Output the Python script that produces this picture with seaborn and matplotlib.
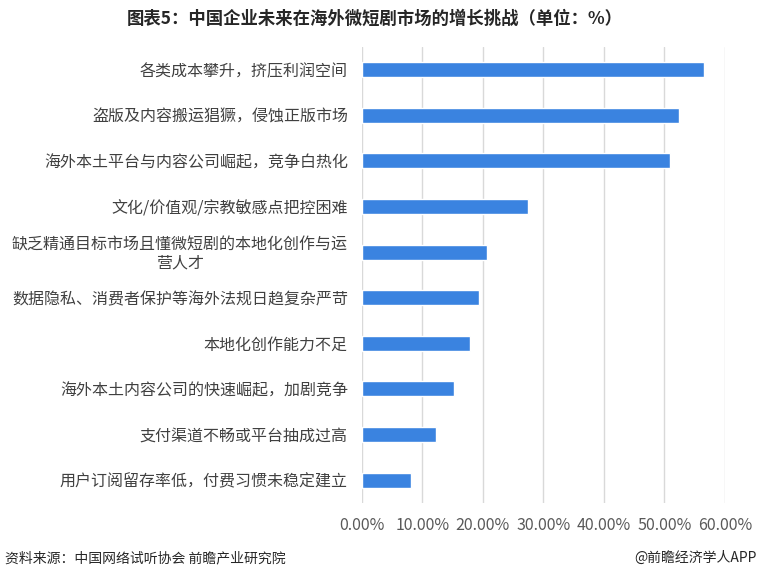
import matplotlib.pyplot as plt
import seaborn as sns
import numpy as np
import pandas as pd
from matplotlib.ticker import PercentFormatter

challenges = ['各类成本攀升，挤压利润空间',
              '盗版及内容搬运猖獗，侵蚀正版市场',
              '海外本土平台与内容公司崛起，竞争白热化',
              '文化/价值观/宗教敏感点把控困难',
              '缺乏精通目标市场且懂微短剧的本地化创作与运\n营人才',
              '数据隐私、消费者保护等海外法规日趋复杂严苛',
              '本地化创作能力不足',
              '海外本土内容公司的快速崛起，加剧竞争',
              '支付渠道不畅或平台抽成过高',
              '用户订阅留存率低，付费习惯未稳定建立']
share = [0.566, 0.524, 0.509, 0.275, 0.207, 0.193, 0.179, 0.152, 0.123, 0.082]

df = pd.DataFrame({'challenge': challenges, 'share': share})

sns.set_style('white')
plt.rcParams['font.family'] = ['Noto Sans CJK SC', 'DejaVu Sans']

fig = plt.figure(figsize=(7.6, 5.8), dpi=100)
ax = fig.add_axes([0.476, 0.133, 0.478, 0.786])

sns.barplot(data=df, x='share', y='challenge', color='#3A83E0', width=0.33,
            saturation=1, ax=ax)

ax.set_xlim(0, 0.6)
ax.set_xticks(np.arange(0, 0.61, 0.1))
ax.xaxis.set_major_formatter(PercentFormatter(1.0, decimals=2))
ax.grid(axis='x', color='#D9D9D9', linewidth=1)
ax.set_axisbelow(True)
for s in ax.spines.values():
    s.set_visible(False)
ax.set_xlabel('')
ax.set_ylabel('')
ax.tick_params(axis='x', colors='#595959', labelsize=11.5, length=0, pad=10)
ax.tick_params(axis='y', colors='#404040', labelsize=11.5, length=0, pad=10)

# 两行的标签单独画，第二行在第一行下方居中
wrapped = [i for i, c in enumerate(challenges) if '\n' in c]
ax.set_yticks(range(len(challenges)),
              labels=['' if '\n' in c else c for c in challenges])
for i in wrapped:
    first, second = challenges[i].split('\n')
    t1 = ax.annotate(first, xy=(0, i), xycoords=('axes fraction', 'data'),
                     xytext=(-10, 6), textcoords='offset points',
                     ha='right', va='center', fontsize=11.5, color='#404040')
    ax.annotate(second, xy=(0.5, 0.5), xycoords=t1,
                xytext=(0, -13.5), textcoords='offset points',
                ha='center', va='center', fontsize=11.5, color='#404040')

fig.text(0.493, 0.968, '图表5：中国企业未来在海外微短剧市场的增长挑战（单位：%）',
         ha='center', va='center', fontsize=12.5, fontweight='bold', color='#262626')
fig.text(0.007, 0.038, '资料来源：中国网络试听协会 前瞻产业研究院',
         ha='left', va='center', fontsize=10, color='#262626')
fig.text(0.995, 0.038, '@前瞻经济学人APP',
         ha='right', va='center', fontsize=10, color='#262626')

fig.savefig('out.png', dpi=100)
